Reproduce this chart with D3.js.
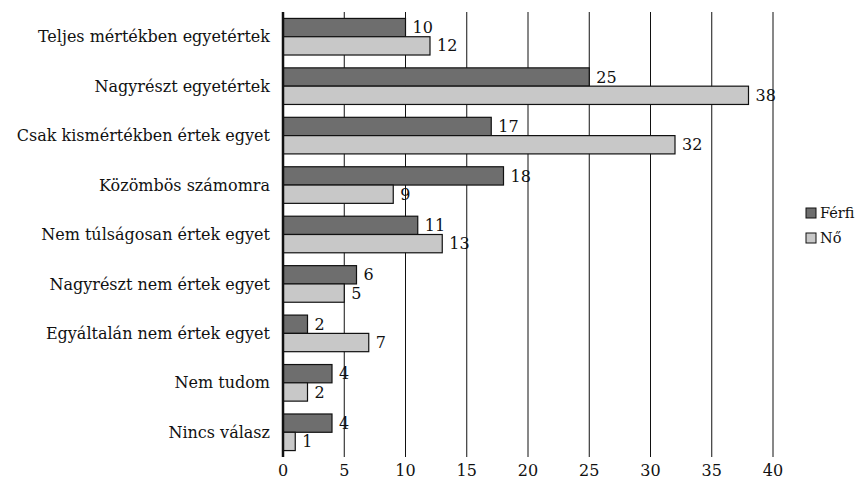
<!DOCTYPE html>
<html>
<head>
<meta charset="utf-8">
<script src="https://cdn.jsdelivr.net/npm/d3@7"></script>
<style>
  body { margin: 0; background: #fff; }
</style>
</head>
<body>
<svg id="chart" width="865" height="485"></svg>
<script>
// adatok
const categories = [
  'Teljes mértékben egyetértek',
  'Nagyrészt egyetértek',
  'Csak kismértékben értek egyet',
  'Közömbös számomra',
  'Nem túlságosan értek egyet',
  'Nagyrészt nem értek egyet',
  'Egyáltalán nem értek egyet',
  'Nem tudom',
  'Nincs válasz'
]
const series = ['Férfi', 'Nő']
const ferfi = [10, 25, 17, 18, 11, 6, 2, 4, 4]
const no = [12, 38, 32, 9, 13, 5, 7, 2, 1]
const xTicks = [0, 5, 10, 15, 20, 25, 30, 35, 40]

const colors = { 'Férfi': '#6e6e6e', 'Nő': '#c8c8c8' }

const margin = { left: 283, top: 12, right: 865 - 773, bottom: 485 - 457 }
const width = 865 - margin.left - margin.right
const height = 485 - margin.top - margin.bottom

// csak a DejaVu Serif talpas betű érhető el
const svg = d3.select('#chart')
  .style('font-family', "'DejaVu Serif'")
  .style('font-size', '16px')
  .style('fill', '#111')
const g = svg.append('g').attr('transform', `translate(${margin.left},${margin.top})`)

const x = d3.scaleLinear().domain([0, 40]).range([0, width])
const y = d3.scaleBand().domain(categories).range([0, height]).paddingInner(0.26).paddingOuter(0.13)
const ySub = d3.scaleBand().domain(series).range([0, y.bandwidth()])

// rácsvonalak
g.selectAll('.grid')
  .data(xTicks.slice(1))
  .enter().append('line')
  .attr('x1', d => x(d)).attr('x2', d => x(d))
  .attr('y1', 0).attr('y2', height)
  .attr('stroke', '#111').attr('stroke-width', 1)

const rows = categories.map((c, i) => ({ cat: c, values: [
  { s: 'Férfi', v: ferfi[i] },
  { s: 'Nő', v: no[i] }
] }))

const row = g.selectAll('.row')
  .data(rows)
  .enter().append('g')
  .attr('transform', d => `translate(0,${y(d.cat)})`)

row.selectAll('rect')
  .data(d => d.values)
  .enter().append('rect')
  .attr('x', 0)
  .attr('y', d => ySub(d.s))
  .attr('width', d => x(d.v))
  .attr('height', ySub.bandwidth())
  .attr('fill', d => colors[d.s])
  .attr('stroke', '#111')
  .attr('stroke-width', 1.2)

row.selectAll('.val')
  .data(d => d.values)
  .enter().append('text')
  .attr('x', d => x(d.v) + 7)
  .attr('y', d => ySub(d.s) + ySub.bandwidth() / 2)
  .attr('dy', '0.35em')
  .text(d => d.v)

// y tengely
g.append('line')
  .attr('x1', 0).attr('x2', 0).attr('y1', 0).attr('y2', height)
  .attr('stroke', '#111').attr('stroke-width', 2.5)

g.selectAll('.cat')
  .data(categories)
  .enter().append('text')
  .attr('x', -13)
  .attr('y', d => y(d) + y.bandwidth() / 2)
  .attr('dy', '0.35em')
  .attr('text-anchor', 'end')
  .text(d => d)

// x tengely feliratok
g.selectAll('.xt')
  .data(xTicks)
  .enter().append('text')
  .attr('x', d => x(d))
  .attr('y', height + 13)
  .attr('dy', '0.35em')
  .attr('text-anchor', 'middle')
  .text(d => d)

// jelmagyarázat
const legend = svg.append('g').attr('transform', 'translate(806,208)')
const li = legend.selectAll('g')
  .data(series)
  .enter().append('g')
  .attr('transform', (d, i) => `translate(0,${i * 25})`)
li.append('rect')
  .attr('width', 10).attr('height', 10)
  .attr('fill', d => colors[d])
  .attr('stroke', '#111').attr('stroke-width', 1)
li.append('text')
  .attr('x', 14).attr('y', 5).attr('dy', '0.35em')
  .style('font-size', '14.5px')
  .text(d => d)
</script>
</body>
</html>
